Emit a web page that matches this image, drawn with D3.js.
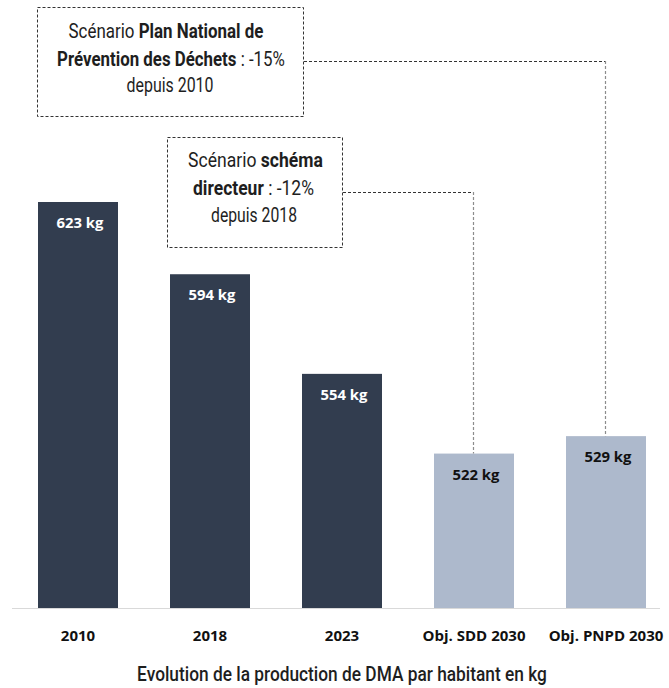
<!DOCTYPE html>
<html><head><meta charset="utf-8">
<script src="https://cdn.jsdelivr.net/npm/d3@7"></script>
<style>
html,body{margin:0;padding:0;background:#fff;}
svg{display:block;}
</style></head>
<body>
<svg id="chart" width="669" height="688"></svg>
<script>
const categories = ["2010", "2018", "2023", "Obj. SDD 2030", "Obj. PNPD 2030"];
const values = [623, 594, 554, 522, 529];
const valueLabels = ["623 kg", "594 kg", "554 kg", "522 kg", "529 kg"];
const isObjective = [false, false, false, true, true];
const title = "Evolution de la production de DMA par habitant en kg";
const annotation1 = [
  [["Scénario ", false], ["Plan National de", true]],
  [["Prévention des Déchets", true], [" : -15%", false]],
  [["depuis 2010", false]]
];
const annotation2 = [
  [["Scénario ", false], ["schéma", true]],
  [["directeur", true], [" : -12%", false]],
  [["depuis 2018", false]]
];

const svg = d3.select("#chart");
const x = d3.scaleBand().domain(categories).range([12, 672]).paddingInner(0.394).paddingOuter(0.197);
const y = d3.scaleLinear().domain([460, 623]).range([608, 202]);

const dark = "#323d4f", light = "#adb9cc";

// bars
svg.selectAll("rect.bar").data(categories).join("rect")
  .attr("class", "bar")
  .attr("x", d => x(d))
  .attr("width", x.bandwidth())
  .attr("y", (d, i) => y(values[i]))
  .attr("height", (d, i) => y(460) - y(values[i]))
  .attr("fill", (d, i) => isObjective[i] ? light : dark);

// baseline
svg.append("line").attr("x1", 12).attr("x2", 660).attr("y1", y(460) + 0.5).attr("y2", y(460) + 0.5)
  .attr("stroke", "#d9d9d9").attr("stroke-width", 1);

// helper: font size so that a reference string reaches a given width
function sizeFor(str, family, weight, targetW) {
  const t = svg.append("text").attr("font-family", family).attr("font-weight", weight)
    .attr("font-size", 20).text(str);
  const w = t.node().getComputedTextLength();
  t.remove();
  return 20 * targetW / w;
}
const valSize = sizeFor("623 kg", "'Open Sans', sans-serif", "bold", 47);
const catSize = sizeFor("Obj. SDD 2030", "'Open Sans', sans-serif", "bold", 103);

// value labels
svg.selectAll("text.val").data(categories).join("text")
  .attr("class", "val")
  .attr("x", d => x(d) + x.bandwidth() / 2 + 2)
  .attr("y", (d, i) => y(values[i]) + 26)
  .attr("text-anchor", "middle")
  .attr("font-family", "'Open Sans', sans-serif")
  .attr("font-weight", "bold")
  .attr("font-size", valSize)
  .attr("fill", (d, i) => isObjective[i] ? "#111" : "#fff")
  .text((d, i) => valueLabels[i]);

// category axis
const axis = d3.axisBottom(x).tickSize(0).tickPadding(0);
const ax = svg.append("g").attr("transform", `translate(0, ${y(460)})`).call(axis);
ax.select(".domain").remove();
ax.selectAll("text")
  .attr("y", 33)
  .attr("dy", 0)
  .attr("font-family", "'Open Sans', sans-serif")
  .attr("font-weight", "bold")
  .attr("font-size", catSize)
  .attr("fill", "#111");

// helper for condensed text fitted to width
function fitText(g, cx, yBase, parts, targetW, size, normalWeight) {
  const grp = g.append("g");
  const t = grp.append("text")
    .attr("font-family", "Roboto, sans-serif")
    .attr("font-size", size)
    .attr("fill", "#1e1e1e")
    .attr("text-anchor", "middle");
  parts.forEach(p => {
    t.append("tspan").attr("font-weight", p[1] ? "bold" : (normalWeight || "normal")).text(p[0]);
  });
  const w = t.node().getComputedTextLength();
  const s = targetW / w;
  grp.attr("transform", `translate(${cx},${yBase}) scale(${s},1)`);
}

// annotation boxes
const ann = svg.append("g");
function box(x0, y0, x1, y1) {
  ann.append("rect").attr("x", x0 + 0.5).attr("y", y0 + 0.5).attr("width", x1 - x0).attr("height", y1 - y0)
    .attr("fill", "#fff").attr("stroke", "#333").attr("stroke-width", 1).attr("stroke-dasharray", "3,2");
}
box(37, 7, 303, 116);
box(167, 137, 342, 247);

// connectors
function connector(xStart, yH, cat, i) {
  const xc = x(cat) + x.bandwidth() / 2 - 1;
  ann.append("line").attr("x1", xStart).attr("x2", xc).attr("y1", yH + 0.5).attr("y2", yH + 0.5)
    .attr("stroke", "#333").attr("stroke-width", 1).attr("stroke-dasharray", "3,2");
  ann.append("line").attr("x1", xc + 0.5).attr("x2", xc + 0.5).attr("y1", yH).attr("y2", y(values[i]))
    .attr("stroke", "#8c8c8c").attr("stroke-width", 1.2).attr("stroke-dasharray", "3,2");
}
connector(304, 61, categories[4], 4);
connector(343, 192, categories[3], 3);

const w1 = [195, 228, 87], c1 = [166, 171, 170], b1 = [38, 65.5, 92];
annotation1.forEach((line, k) => fitText(ann, c1[k], b1[k], line, w1[k], 21));
const w2 = [135, 121, 86], c2 = [255.5, 253.5, 254], b2 = [167, 194.5, 222];
annotation2.forEach((line, k) => fitText(ann, c2[k], b2[k], line, w2[k], 21));

// title
fitText(svg, 342, 681, [[title, false]], 410, 21, 500);
</script>
</body></html>
